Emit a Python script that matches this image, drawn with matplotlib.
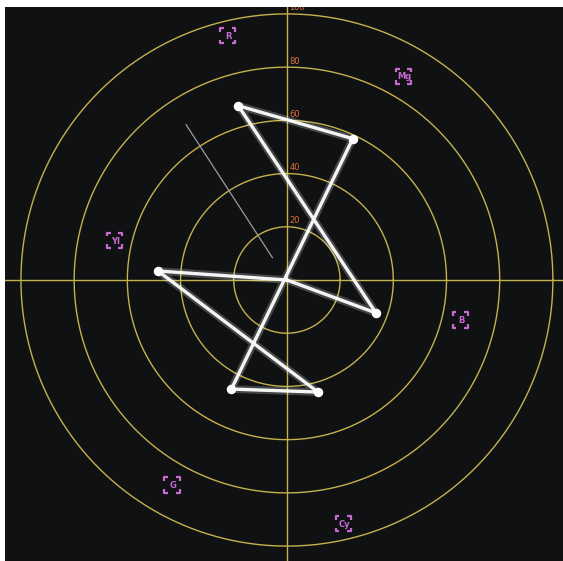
import numpy as np
import matplotlib
matplotlib.use('Agg')
import matplotlib.pyplot as plt
from matplotlib.path import Path

# graticule rings (percent of full scale)
RINGS = [20, 40, 60, 80, 100]
RING_LABELS = ['20', '40', '60', '80', '100']

# colour-bar targets: hue angle (deg) and magnitude
TARGET_NAMES = ['R', 'Mg', 'B', 'Cy', 'G', 'Yl']
TARGET_ANGLE = [103.6, 60.2, 347.0, 283.0, 240.7, 167.0]
TARGET_MAG = [94.4, 88.3, 66.9, 94.0, 88.3, 66.5]

# measured trace: white -> Yl -> Cy -> G -> Mg -> R -> B -> black
TRACE_ANGLE = [0.0, 176.0, 285.5, 243.0, 65.0, 105.6, 339.7, 0.0]
TRACE_MAG = [0.0, 48.6, 43.7, 46.0, 58.6, 68.0, 35.7, 0.0]

# skin tone (I) line
SKIN_ANGLE = 123.0
SKIN_MAG = [10.0, 69.6]

BG = '#101113'
GRID = '#c4b24c'
LABEL = '#e0703a'
TARGET = '#c86ad4'


def polar_xy(angle, mag):
    a = np.deg2rad(np.asarray(angle))
    m = np.asarray(mag)
    return m * np.cos(a), m * np.sin(a)


def bracket_marker():
    # four corner brackets around a square
    c, s = 1.0, 0.5
    verts, codes = [], []
    for sx in (-1, 1):
        for sy in (-1, 1):
            verts += [(sx * c, sy * (c - s)), (sx * c, sy * c), (sx * (c - s), sy * c)]
            codes += [Path.MOVETO, Path.LINETO, Path.LINETO]
    return Path(verts, codes)


fig = plt.figure(figsize=(5.63, 5.61), dpi=100, facecolor='white')
ax = fig.add_axes([5 / 563, 0, 558 / 563, 554 / 561])
ax.set_facecolor(BG)
ax.set_xlim(-106.0, 103.8)
ax.set_ylim(-105.6, 102.6)
ax.set_xticks([])
ax.set_yticks([])
for sp in ax.spines.values():
    sp.set_visible(False)

# rings and cross hair
t = np.linspace(0, 2 * np.pi, 400)
for r in RINGS:
    ax.plot(r * np.cos(t), r * np.sin(t), color=GRID, lw=1.0, zorder=1)
ax.axhline(0, color=GRID, lw=1.0, zorder=1)
ax.axvline(0, color=GRID, lw=1.0, zorder=1)
for r, lab in zip(RINGS, RING_LABELS):
    ax.text(0.9, r + 0.6, lab, color=LABEL, fontsize=6, ha='left', va='bottom',
            zorder=2, clip_on=True)

# targets
tx, ty = polar_xy(TARGET_ANGLE, TARGET_MAG)
ax.scatter(tx, ty, marker=bracket_marker(), s=120, facecolors='none',
           edgecolors=TARGET, linewidths=1.6, zorder=3)
for x, y, name in zip(tx, ty, TARGET_NAMES):
    ax.text(x + 0.3, y - 0.3, name, color=TARGET, fontsize=6, ha='center', va='center',
            fontweight='bold', zorder=3)

# skin tone line
sx, sy = polar_xy([SKIN_ANGLE] * 2, SKIN_MAG)
ax.plot(sx, sy, color='#9c9c9c', lw=0.9, zorder=2)

# trace with a soft glow
px, py = polar_xy(TRACE_ANGLE, TRACE_MAG)
ax.plot(px, py, color='white', lw=5.5, alpha=0.22, solid_capstyle='round', zorder=4)
ax.plot(px, py, color='white', lw=2.4, alpha=0.95, solid_capstyle='round', zorder=5)
ax.scatter(px[1:-1], py[1:-1], s=34, color='white', zorder=6)

fig.savefig('out.png', dpi=100, facecolor='white')
